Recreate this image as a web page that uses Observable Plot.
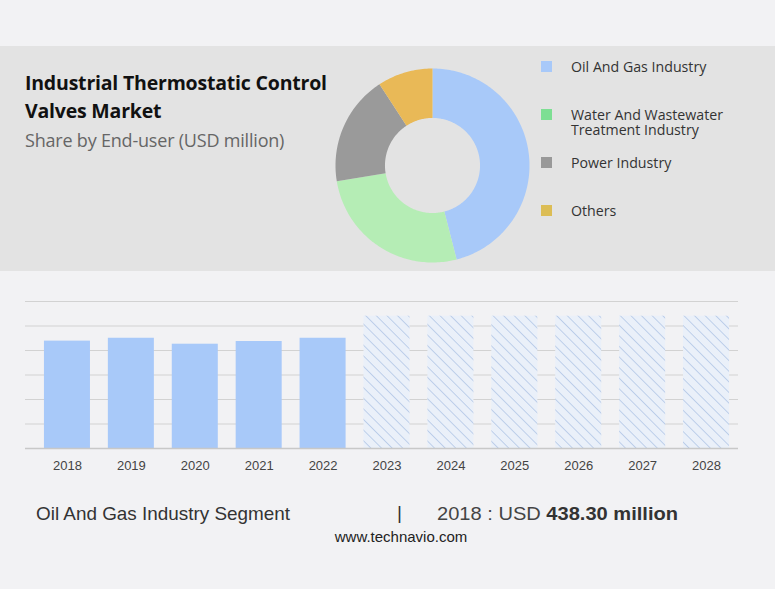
<!DOCTYPE html>
<html>
<head>
<meta charset="utf-8">
<script src="https://cdn.jsdelivr.net/npm/d3@7"></script>
<script src="https://cdn.jsdelivr.net/npm/@observablehq/plot@0.6"></script>
<style>
  html, body { margin: 0; padding: 0; }
  body { width: 775px; height: 589px; background: #f2f2f4; position: relative; overflow: hidden; font-family: "Open Sans", sans-serif; }
  #band { position: absolute; left: 0; top: 46px; width: 775px; height: 225px; background: #e3e3e3; }
  #title { position: absolute; left: 25px; top: 69px; font-weight: 700; font-size: 19.5px; line-height: 28px; color: #111; letter-spacing: -0.2px; }
  #subtitle { position: absolute; left: 25px; top: 128px; font-size: 18px; color: #666; letter-spacing: -0.2px; }
  #donut { position: absolute; left: 335px; top: 68px; }
  #legend { position: absolute; left: 541px; top: 0; }
  .li { position: absolute; left: 0; width: 234px; font-size: 14.2px; color: #333; line-height: 15px; }
  .li .sw { position: absolute; left: 0; top: 2px; width: 11px; height: 11px; }
  .li .tx { position: absolute; left: 30px; top: 0; white-space: nowrap; }
  #bars { position: absolute; left: 0; top: 290px; }
  .fit { position: absolute; white-space: nowrap; transform-origin: 0 0; }
  #foot1 { left: 36px; top: 503px; font-family: "Liberation Sans Narrow", sans-serif; font-size: 19px; color: #333; }
  #pipe { position: absolute; left: 397px; top: 502px; font-size: 19px; color: #333; font-family: "Liberation Sans Narrow", sans-serif; }
  #foot2 { left: 437px; top: 503px; font-family: "Liberation Sans Narrow", sans-serif; font-size: 19px; color: #444; }
  #foot2 b { font-family: "Liberation Sans", sans-serif; font-size: 19px; color: #333; }
  #site { position: absolute; left: 0; width: 802px; top: 528px; text-align: center; font-family: "Liberation Sans Narrow", sans-serif; font-size: 15px; color: #222; }
</style>
</head>
<body>
<div id="band"></div>
<div id="title">Industrial Thermostatic Control<br>Valves Market</div>
<div id="subtitle">Share by End-user (USD million)</div>
<div id="donut"></div>
<div id="legend"></div>
<div id="bars"></div>
<div id="foot1" class="fit" data-w="254">Oil And Gas Industry Segment</div>
<div id="pipe">|</div>
<div id="foot2" class="fit" data-w="241">2018 : USD <b>438.30 million</b></div>
<div id="site">www.technavio.com</div>
<script>
// ---- data ----
const segments = ["Oil And Gas Industry", "Water And Wastewater Treatment Industry", "Power Industry", "Others"];
const legendLabels = ["Oil And Gas Industry", "Water And Wastewater<br>Treatment Industry", "Power Industry", "Others"];
const shares = [46.0, 26.4, 18.4, 9.2];
const donutColors = ["#a8c9f9", "#b5edb5", "#9a9a9a", "#e9b957"];
const legendColors = ["#a8c9f9", "#7ddf93", "#999999", "#dcbd55"];

const years = ["2018","2019","2020","2021","2022","2023","2024","2025","2026","2027","2028"];
const values = [438.3, 450, 425.7, 436.7, 450, 540, 540, 540, 540, 540, 540];
const forecast = [false, false, false, false, false, true, true, true, true, true, true];
const yTicks = [0, 100, 200, 300, 400, 500, 600];

// ---- donut ----
const pieData = segments.map((s, i) => ({ name: s, value: shares[i] }));
const arcs = d3.pie().sort(null).value(d => d.value)(pieData);
const R = 1, r = 0.49;
function slicePolygon(a) {
  const pts = [];
  const n = Math.max(8, Math.ceil((a.endAngle - a.startAngle) / 0.02));
  for (let k = 0; k <= n; k++) {
    const t = a.startAngle + (a.endAngle - a.startAngle) * k / n;
    pts.push([R * Math.sin(t), -R * Math.cos(t)]);
  }
  for (let k = n; k >= 0; k--) {
    const t = a.startAngle + (a.endAngle - a.startAngle) * k / n;
    pts.push([r * Math.sin(t), -r * Math.cos(t)]);
  }
  pts.push(pts[0]);
  return { type: "Feature", properties: { name: a.data.name }, geometry: { type: "Polygon", coordinates: [pts] } };
}
const features = arcs.map(slicePolygon);
const donut = Plot.plot({
  width: 194, height: 194, margin: 0,
  style: { background: "transparent", overflow: "visible" },
  projection: { type: "identity", domain: { type: "MultiPoint", coordinates: [[-1, -1], [1, 1], [-1, 1], [1, -1]] } },
  color: { domain: segments, range: donutColors },
  marks: [
    Plot.geo(features, { fill: d => d.properties.name, stroke: "none" })
  ]
});
document.getElementById("donut").appendChild(donut);

// ---- legend ----
const legendTops = [59, 107, 155, 203];
const lg = document.getElementById("legend");
segments.forEach((s, i) => {
  const el = document.createElement("div");
  el.className = "li";
  el.style.top = legendTops[i] + "px";
  el.innerHTML = `<div class="sw" style="background:${legendColors[i]}"></div><div class="tx">${legendLabels[i]}</div>`;
  lg.appendChild(el);
});

// ---- bars ----
const barData = years.map((y, i) => ({ year: y, value: values[i], forecast: forecast[i] }));
const bars = Plot.plot({
  width: 775, height: 190,
  marginTop: 11, marginBottom: 32, marginLeft: 25, marginRight: 37,
  style: { background: "transparent", fontFamily: "Liberation Sans, Arial, sans-serif", fontSize: "13px", color: "#444", overflow: "visible" },
  x: { domain: years, range: [35, 738], paddingInner: 0.28, paddingOuter: 0.14, round: false, label: null },
  y: { domain: [0, 600], label: null },
  marks: [
    Plot.ruleY(yTicks.filter(t => t > 0), { stroke: "#d2d2d2", strokeWidth: 1, strokeOpacity: 1 }),
    Plot.barY(barData.filter(d => !d.forecast), { x: "year", y: "value", fill: "#a8c9f9" }),
    Plot.barY(barData.filter(d => d.forecast), { x: "year", y: "value", fill: "url(#hatch)" }),
    Plot.ruleY([0], { stroke: "#c8c8c8", strokeWidth: 1.5 }),
    Plot.axisX({ tickSize: 0, tickPadding: 12, fontSize: 13, fill: "#444", label: null }),
    Plot.axisY({ ticks: [], label: null })
  ]
});
const ns = "http://www.w3.org/2000/svg";
const defs = document.createElementNS(ns, "defs");
defs.innerHTML = `<pattern id="hatch" patternUnits="userSpaceOnUse" width="7.5" height="7.5" patternTransform="rotate(-45)">
  <rect width="7.5" height="7.5" fill="#eaf0f9"></rect>
  <line x1="0" y1="0" x2="0" y2="7.5" stroke="#b9cce9" stroke-width="1.8"></line>
</pattern>`;
bars.insertBefore(defs, bars.firstChild);
document.getElementById("bars").appendChild(bars);

// fit footer texts to reference widths
document.querySelectorAll(".fit").forEach(el => {
  const w = el.getBoundingClientRect().width;
  const target = +el.dataset.w;
  el.style.transform = `scaleX(${target / w})`;
});
</script>
</body>
</html>
